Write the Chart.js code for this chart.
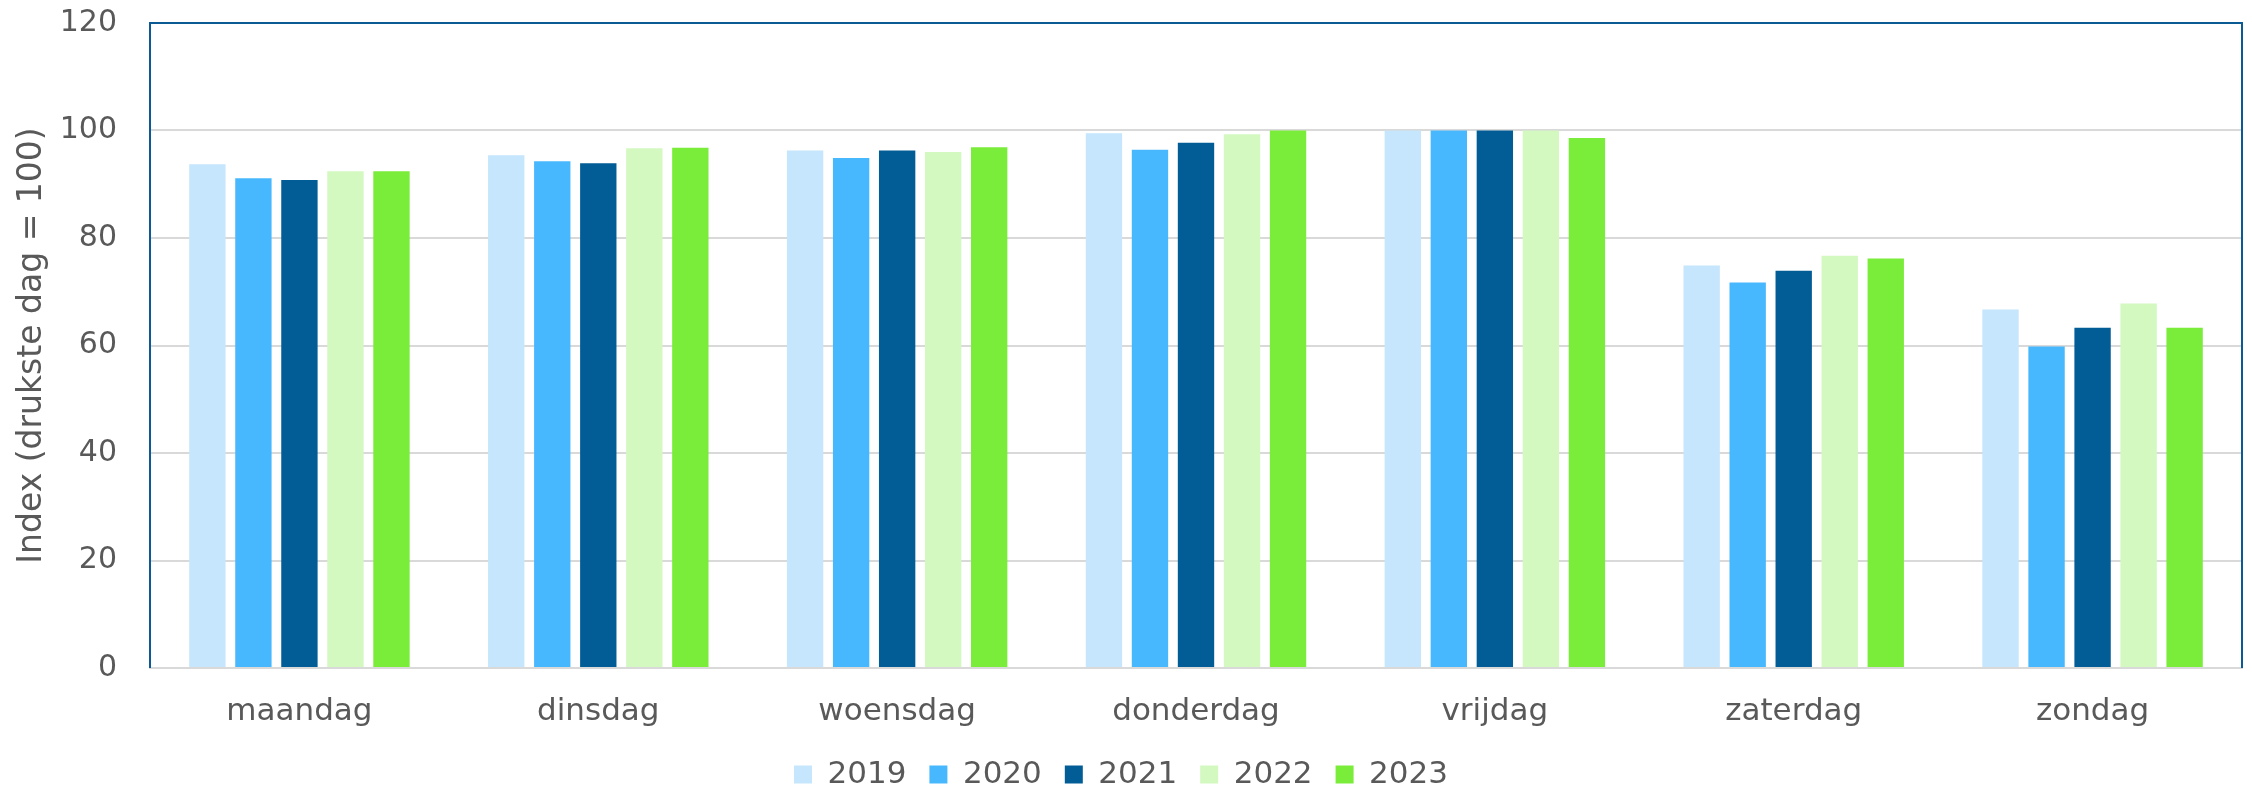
<!DOCTYPE html>
<html>
<head>
<meta charset="utf-8">
<script src="https://cdn.jsdelivr.net/npm/chart.js@4/dist/chart.umd.min.js"></script>
<style>
  html, body { margin: 0; padding: 0; background: #fff; }
  #wrap { width: 2252px; height: 787px; }
</style>
</head>
<body>
<div id="wrap"><canvas id="grafiek" width="2252" height="787"></canvas></div>
<script>
// data
const dagen = ['maandag', 'dinsdag', 'woensdag', 'donderdag', 'vrijdag', 'zaterdag', 'zondag'];
const jaren = ['2019', '2020', '2021', '2022', '2023'];
const waarden2019 = [93.7, 95.4, 96.3, 99.5, 100, 74.9, 66.7];
const waarden2020 = [91.1, 94.3, 94.9, 96.4, 100, 71.7, 59.8];
const waarden2021 = [90.8, 93.9, 96.3, 97.7, 100, 73.9, 63.3];
const waarden2022 = [92.4, 96.7, 96.0, 99.3, 100, 76.7, 67.8];
const waarden2023 = [92.4, 96.8, 96.9, 100, 98.6, 76.2, 63.3];
const yTicks = [0, 20, 40, 60, 80, 100, 120];

const kleuren = ['#C5E6FC', '#47B8FE', '#025C96', '#D3F8C0', '#7AEC3A'];
const reeksen = [waarden2019, waarden2020, waarden2021, waarden2022, waarden2023];
const tekstKleur = '#595959';

// kader rond het plotgebied (links, boven, rechts)
const kaderPlugin = {
    id: 'kader',
    afterDraw(chart) {
        const { ctx, chartArea: a } = chart;
        ctx.save();
        ctx.strokeStyle = '#0B5A94';
        ctx.lineWidth = 2;
        ctx.beginPath();
        ctx.moveTo(a.left, a.bottom);
        ctx.lineTo(a.left, a.top);
        ctx.lineTo(a.right, a.top);
        ctx.lineTo(a.right, a.bottom);
        ctx.stroke();
        ctx.restore();
    }
};

new Chart(document.getElementById('grafiek').getContext('2d'), {
    type: 'bar',
    data: {
        labels: dagen,
        datasets: jaren.map((j, i) => ({
            label: j,
            data: reeksen[i],
            backgroundColor: kleuren[i],
            borderWidth: 0,
            barPercentage: 0.79,
            categoryPercentage: 0.77
        }))
    },
    options: {
        responsive: false,
        animation: false,
        // negatieve ondermarge schuift de legenda iets omlaag
        layout: { padding: { left: 0, right: 10, top: 23, bottom: -13 } },
        plugins: {
            legend: {
                position: 'bottom',
                labels: {
                    color: tekstKleur,
                    font: { family: 'DejaVu Sans', size: 31 },
                    boxWidth: 18,
                    boxHeight: 18,
                    padding: 23
                }
            },
            tooltip: { enabled: false }
        },
        scales: {
            x: {
                grid: { display: false, drawTicks: false },
                border: { display: true, color: '#D9D9D9', width: 2 },
                ticks: {
                    color: tekstKleur,
                    font: { family: 'DejaVu Sans', size: 31 },
                    padding: 25,
                    maxRotation: 0
                },
                afterFit(s) { s.height = 68; }
            },
            y: {
                min: 0,
                max: 120,
                afterBuildTicks(s) { s.ticks = yTicks.map(v => ({ value: v })); },
                grid: { color: '#D9D9D9', lineWidth: 2, drawTicks: false },
                border: { display: false },
                ticks: {
                    color: tekstKleur,
                    font: { family: 'DejaVu Sans', size: 30 },
                    padding: 33
                },
                title: {
                    display: true,
                    text: 'Index (drukste dag = 100)',
                    color: tekstKleur,
                    font: { family: 'DejaVu Sans', size: 33 },
                    padding: { top: 13, bottom: 0 }
                },
                afterFit(s) {
                    s.width = 150;
                    s.paddingTop = 0;
                    s.paddingBottom = 0;
                }
            }
        }
    },
    plugins: [kaderPlugin]
});
</script>
</body>
</html>
